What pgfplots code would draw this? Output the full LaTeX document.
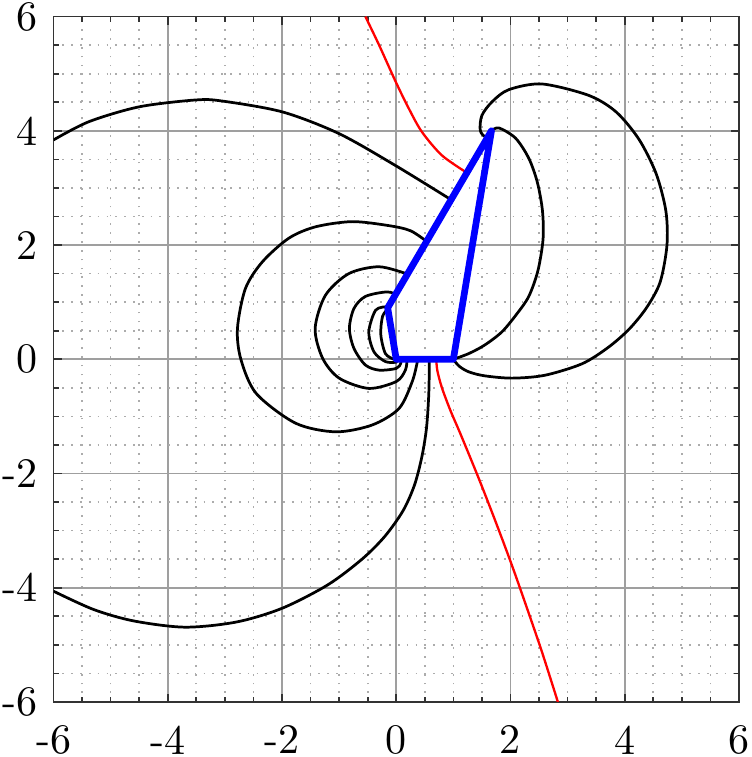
\documentclass[border=0pt]{standalone}
\usepackage{pgfplots}
\pgfplotsset{compat=1.18}

\begin{document}
\begin{tikzpicture}
\begin{axis}[
    scale only axis,
    width=163pt, height=163pt,
    xmin=-6, xmax=6, ymin=-6, ymax=6,
    xtick={-6,-4,...,6}, ytick={-6,-4,...,6},
    xticklabels={-6,-4,-2,0,2,4,6},
    yticklabels={-6,-4,-2,0,2,4,6},
    minor tick num=3,
    grid=both,
    major grid style={gray!75, line width=0.4pt},
    minor grid style={gray!65, line width=0.4pt, dash pattern=on 0.4pt off 1.7pt},
    tick align=inside,
    major tick length=2pt, minor tick length=1.2pt,
    axis line style={black!80, line width=0.4pt},
    tick style={black!80, line width=0.4pt},
    tick label style={inner sep=0.5pt},
    xticklabel style={yshift=-5pt},
    yticklabel style={xshift=-3.2pt},
    clip=true,
]
% field lines, black
\addplot[black, line width=0.65pt, smooth, tension=0.5] coordinates {
 (-6,3.84) (-5.38,4.16) (-4.50,4.42) (-3.51,4.54) (-3.04,4.52) (-1.99,4.33)
 (-1.0,3.95) (-0.01,3.39) (0.95,2.80)};
\addplot[black, line width=0.65pt, smooth, tension=0.5] coordinates {
 (0.58,0) (0.57,-0.6) (0.53,-1.2) (0.45,-1.7) (0.32,-2.2) (0.12,-2.65) (-0.2,-3.1)
 (-0.6,-3.5) (-1.2,-3.95) (-2.0,-4.36) (-2.8,-4.6) (-3.7,-4.69) (-4.6,-4.58)
 (-5.3,-4.38) (-6,-4.06)};
\addplot[black, line width=0.65pt, smooth, tension=0.5] coordinates {
 (0.55,2.05) (0.25,2.25) (-0.13,2.34) (-0.77,2.41) (-1.41,2.32) (-1.88,2.12)
 (-2.34,1.71) (-2.64,1.24) (-2.78,0.54) (-2.72,0.0) (-2.45,-0.6) (-1.76,-1.12)
 (-1.06,-1.27) (-0.42,-1.15) (0.05,-0.86) (0.28,-0.39) (0.37,-0.04) (0.37,0)};
\addplot[black, line width=0.65pt, smooth, tension=0.5] coordinates {
 (0.2,1.49) (-0.30,1.62) (-0.83,1.50) (-1.24,1.12) (-1.42,0.54) (-1.29,0.02)
 (-1.0,-0.33) (-0.48,-0.51) (0,-0.39) (0.16,-0.19) (0.19,0)};
\addplot[black, line width=0.65pt, smooth, tension=0.5] coordinates {
 (0.03,1.12) (-0.16,1.18) (-0.54,1.10) (-0.74,0.89) (-0.82,0.54) (-0.74,0.19)
 (-0.54,-0.10) (-0.30,-0.19) (0,-0.16) (0.08,-0.07) (0.08,0)};
\addplot[black, line width=0.65pt, smooth, tension=0.5] coordinates {
 (-0.16,0.92) (-0.36,0.86) (-0.48,0.48) (-0.39,0.13) (-0.19,-0.04) (0,-0.05) (0.02,0)};
\addplot[black, line width=0.65pt, smooth, tension=0.5] coordinates {
 (-0.14,0.89) (-0.24,0.75) (-0.27,0.43) (-0.19,0.10) (-0.04,0.0)};
\addplot[black, line width=0.65pt, smooth, tension=0.5] coordinates {
 (1.667,4.0) (1.80,4.05) (2.09,3.87) (2.32,3.52) (2.47,3.1) (2.56,2.6) (2.57,2.1)
 (2.48,1.55) (2.32,1.1) (2.1,0.78) (1.85,0.48) (1.55,0.25) (1.27,0.1) (1.0,0)};
\addplot[black, line width=0.65pt, smooth, tension=0.5] coordinates {
 (1.667,4.0) (1.56,3.90) (1.47,4.01) (1.50,4.27) (1.68,4.51) (1.97,4.72) (2.55,4.82)
 (3.37,4.62) (3.85,4.33) (4.25,3.85) (4.55,3.25) (4.72,2.6) (4.74,2.0) (4.62,1.35)
 (4.38,0.9) (4.07,0.52) (3.7,0.2) (3.25,-0.08) (2.6,-0.28) (2.03,-0.33) (1.55,-0.29)
 (1.27,-0.22) (1.1,-0.12) (1.0,0)};
% red lines
\addplot[red, line width=0.55pt, smooth, tension=0.5] coordinates {
 (-0.54,6) (-0.30,5.50) (-0.01,4.86) (0.22,4.39) (0.45,3.98) (0.80,3.57) (1.23,3.27)};
\addplot[red, line width=0.55pt, smooth, tension=0.5] coordinates {
 (0.70,0) (0.72,-0.2) (0.8,-0.5) (0.95,-0.9) (1.13,-1.32) (1.45,-2.1) (1.75,-2.87)
 (2.03,-3.62) (2.29,-4.36) (2.55,-5.12) (2.83,-6)};
% body outline, blue
\addplot[blue, line width=1.6pt, line join=round] coordinates {
 (0,0) (1,0) (1.667,4) (-0.15,0.9) (0,0)} -- cycle;
\end{axis}
\end{tikzpicture}
\end{document}
